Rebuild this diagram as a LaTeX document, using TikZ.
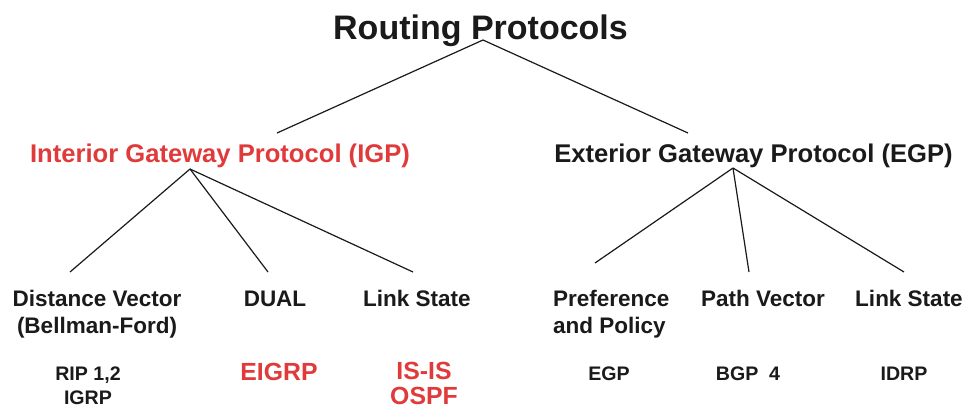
\documentclass[tikz,border=0pt]{standalone}
\usepackage{fontspec}
\setmainfont{Liberation Sans}
\definecolor{igpred}{RGB}{224,58,58}
\definecolor{ink}{RGB}{26,26,26}
\newcommand{\stk}[1]{\begin{tabular}[t]{@{}c@{}}#1\end{tabular}}
\newcommand{\stkl}[1]{\begin{tabular}[t]{@{}l@{}}#1\end{tabular}}
\tikzset{
  lbl/.style={inner sep=0pt, anchor=base, text=ink, font=\bfseries},
  ttl/.style={lbl, font=\fontsize{34}{40}\selectfont\bfseries},
  lvone/.style={lbl, font=\fontsize{25.6}{30}\selectfont\bfseries},
  lvtwo/.style={lbl, font=\fontsize{22.5}{27}\selectfont\bfseries},
  lvthree/.style={lbl, font=\fontsize{19.6}{24}\selectfont\bfseries},
  lvred/.style={lbl, text=igpred, font=\fontsize{24.8}{25}\selectfont\bfseries},
  edge/.style={draw=ink, line width=1.2pt}
}
\begin{document}
\begin{tikzpicture}[x=1pt,y=-1pt]
\useasboundingbox[fill=white] (0,0) rectangle (964,410);
% texts
\node[ttl] (root) at (480.5,39) {Routing Protocols};
\node[lvone, text=igpred] (igp) at (220,162) {Interior Gateway Protocol (IGP)};
\node[lvone] (egp) at (753.5,162) {Exterior Gateway Protocol (EGP)};
\node[lvtwo] (dv) at (97,306) {\stk{Distance Vector\\(Bellman-Ford)}};
\node[lvtwo] (dual) at (275,306) {DUAL};
\node[lvtwo] (ls1) at (417,306) {Link State};
\node[lvtwo, anchor=base west] (pp) at (553,306) {\stkl{Preference\\and Policy}};
\node[lvtwo] (pv) at (763,306) {Path Vector};
\node[lvtwo] (ls2) at (909,306) {Link State};
\node[lvthree] (rip) at (88,380) {\stk{RIP 1,2\\IGRP}};
\node[lvred] (eigrp) at (279,380) {EIGRP};
\node[lvred] (isis) at (424,379) {\stk{IS-IS\\OSPF}};
\node[lvthree] (egpp) at (609,380) {EGP};
\node[lvthree] (bgp) at (748,380) {BGP\ \ 4};
\node[lvthree] (idrp) at (904,380) {IDRP};
% connector end points
\coordinate (rootT) at (483,40);
\coordinate (igpT) at (277,133);
\coordinate (egpT) at (688,133);
\coordinate (igpB) at (190,169);
\coordinate (dvT) at (70,272);
\coordinate (dualT) at (268,272);
\coordinate (ls1T) at (413,272);
\coordinate (egpB) at (733,168);
\coordinate (ppT) at (595,263);
\coordinate (pvT) at (749,272);
\coordinate (ls2T) at (904,272);
% connectors
\draw[edge] (igpT) -- (rootT) -- (egpT);
\draw[edge] (igpB) -- (dvT);
\draw[edge] (igpB) -- (dualT);
\draw[edge] (igpB) -- (ls1T);
\draw[edge] (egpB) -- (ppT);
\draw[edge] (egpB) -- (pvT);
\draw[edge] (egpB) -- (ls2T);
\end{tikzpicture}
\end{document}
